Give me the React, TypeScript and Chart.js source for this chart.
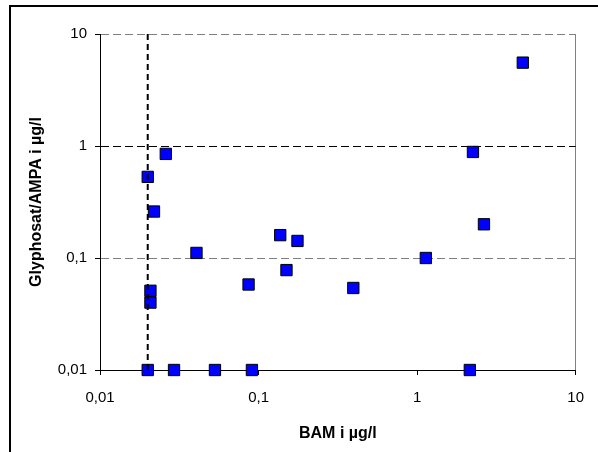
import React, { useEffect, useRef } from 'react';
import { Chart, registerables } from 'chart.js';

Chart.register(...registerables);

// BAM (x) and Glyphosat/AMPA (y) values in µg/l
const bamValues = [0.02, 0.026, 0.0219, 0.0406, 0.0208, 0.0208, 0.0865, 0.137, 0.176, 0.15, 0.02, 0.0293, 0.0531, 0.0908, 0.396, 1.135, 2.15, 2.64, 2.25, 4.64];
const glyphosatValues = [0.53, 0.85, 0.26, 0.111, 0.051, 0.04, 0.058, 0.16, 0.142, 0.078, 0.01, 0.01, 0.01, 0.01, 0.054, 0.1, 0.01, 0.2, 0.885, 5.55];

// Detection limit line for BAM
const limitX = [0.02, 0.02];
const limitY = [10, 0.01];

const tickValues = [0.01, 0.1, 1, 10];
const tickLabels = ['0,01', '0,1', '1', '10'];

const xTitle = 'BAM i µg/l';
const yTitle = 'Glyphosat/AMPA i µg/l';

const FONT = "'Liberation Sans', Arial, sans-serif";

const frameBorder = {
  id: 'frameBorder',
  beforeDraw(chart: any) {
    const ctx = chart.ctx;
    ctx.save();
    ctx.fillStyle = '#fff';
    ctx.fillRect(0, 0, chart.width, chart.height);
    ctx.fillStyle = '#000';
    ctx.fillRect(9, 5, chart.width - 9, 2);
    ctx.fillRect(9, 5, 2, chart.height - 5);
    ctx.restore();
  },
};

export default function App() {
  const ref = useRef<HTMLCanvasElement | null>(null);

  useEffect(() => {
    if (!ref.current) return;
    const points = bamValues.map((x, i) => ({ x, y: glyphosatValues[i] }));
    const limit = limitX.map((x, i) => ({ x, y: limitY[i] }));
    const setTicks = (s: any) => {
      s.ticks = tickValues.map((v) => ({ value: v }));
    };
    const chart = new Chart(ref.current, {
      type: 'scatter',
      data: {
        datasets: [
          {
            data: limit,
            showLine: true,
            borderColor: '#000000',
            borderWidth: 2,
            borderDash: [6, 4],
            pointRadius: 0,
            clip: false,
          } as any,
          {
            data: points,
            backgroundColor: '#0000FF',
            borderColor: '#000000',
            borderWidth: 1,
            pointStyle: 'rect',
            pointRadius: 8,
            pointHoverRadius: 8,
            clip: false,
          } as any,
        ],
      },
      options: {
        animation: false,
        responsive: false,
        events: [],
        layout: { padding: { top: 34, right: 21, left: 0, bottom: 0 } },
        plugins: { legend: { display: false }, tooltip: { enabled: false } },
        scales: {
          x: {
            type: 'logarithmic',
            min: 0.01,
            max: 10,
            afterBuildTicks: setTicks,
            afterFit: (s: any) => {
              s.height = 82;
            },
            ticks: {
              autoSkip: false,
              maxRotation: 0,
              padding: 14,
              color: '#000',
              font: { family: FONT, size: 15 },
              callback: (_v: any, i: number) => tickLabels[i],
            },
            grid: {
              color: (c: any) => (c.tick && c.tick.value === 10 ? '#808080' : 'rgba(0,0,0,0)'),
              tickColor: '#000',
              tickLength: 5,
              lineWidth: 1,
            },
            border: { color: '#000', width: 1 },
            title: {
              display: true,
              text: xTitle,
              color: '#000',
              font: { family: FONT, size: 16, weight: 'bold' },
              padding: { top: 0, bottom: 9 },
            },
          },
          y: {
            type: 'logarithmic',
            min: 0.01,
            max: 10,
            afterBuildTicks: setTicks,
            afterFit: (s: any) => {
              s.width = 100;
            },
            ticks: {
              autoSkip: false,
              padding: 8,
              color: '#000',
              font: { family: FONT, size: 15 },
              callback: (_v: any, i: number) => tickLabels[i],
            },
            grid: {
              color: (c: any) => {
                const v = c.tick && c.tick.value;
                if (v === 0.01) return 'rgba(0,0,0,0)';
                if (v === 1) return '#000';
                return '#808080';
              },
              tickColor: '#000',
              tickLength: 5,
              lineWidth: 1,
            },
            border: { color: '#000', width: 1, dash: [8, 4] },
            title: {
              display: true,
              text: yTitle,
              color: '#000',
              font: { family: FONT, size: 16, weight: 'bold' },
              padding: { top: 27, bottom: 0 },
            },
          },
        },
      } as any,
      plugins: [frameBorder],
    });
    return () => chart.destroy();
  }, []);

  return (
    <div style={{ position: 'absolute', left: 0, top: 0, width: 598, height: 452 }}>
      <canvas ref={ref} width={598} height={452} style={{ display: 'block' }} />
    </div>
  );
}
